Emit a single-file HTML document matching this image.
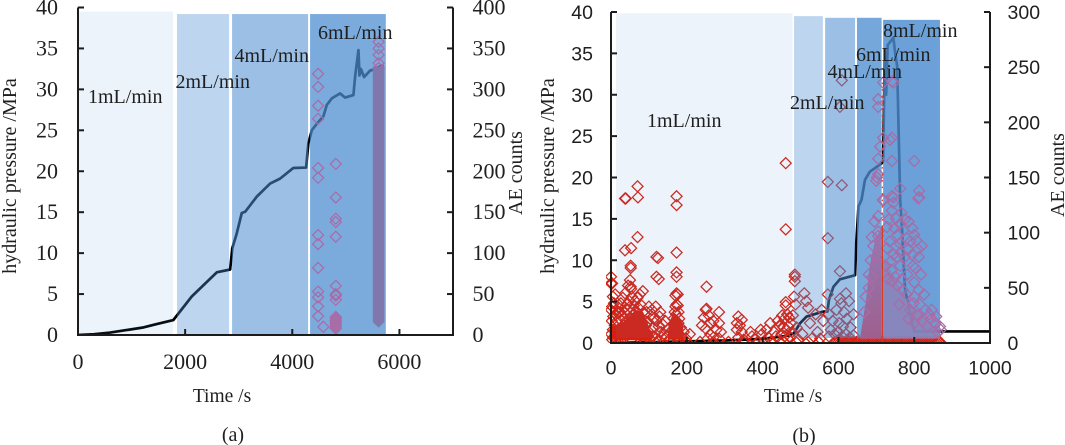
<!DOCTYPE html>
<html lang="en">
<head>
<meta charset="utf-8">
<title>Hydraulic pressure and AE counts</title>
<style>
html,body{margin:0;padding:0;background:#fff;width:1065px;height:445px;overflow:hidden}
svg{display:block}
text{font-family:"Liberation Serif",serif;fill:#1f1f1f}
.sans{font-family:"Liberation Sans",sans-serif}
</style>
</head>
<body>
<svg id="figure" width="1065" height="445" viewBox="0 0 1065 445" xmlns="http://www.w3.org/2000/svg">
  <defs>
    <clipPath id="clipA"><rect x="78" y="0" width="375" height="335"/></clipPath>
    <clipPath id="clipB"><rect x="606" y="0" width="384" height="343"/></clipPath>
    <linearGradient id="moundFill" x1="0" y1="0" x2="0" y2="1">
      <stop offset="0" stop-color="#8f7cb4"/>
      <stop offset="1" stop-color="#a05f8e"/>
    </linearGradient>
  </defs>
  <g id="chartA"></g>
  <g id="chartB"></g>

  <text transform="translate(16,176) rotate(-90)" text-anchor="middle" font-size="20">hydraulic pressure /MPa</text>
  <text transform="translate(522,173) rotate(-90)" text-anchor="middle" font-size="20">AE counts</text>
  <text x="222" y="402" text-anchor="middle" font-size="19.5">Time /s</text>
  <text x="233" y="441" text-anchor="middle" font-size="20">(a)</text>

  <text transform="translate(554,176) rotate(-90)" text-anchor="middle" font-size="20">hydraulic pressure /MPa</text>
  <text transform="translate(1064,175) rotate(-90)" text-anchor="middle" font-size="20">AE counts</text>
  <text x="793" y="402" text-anchor="middle" font-size="19.5">Time /s</text>
  <text x="804" y="442" text-anchor="middle" font-size="20">(b)</text>

  <g font-size="20">
    <text x="88" y="103">1mL/min</text>
    <text x="175.5" y="88">2mL/min</text>
    <text x="234.5" y="62">4mL/min</text>
    <text x="318" y="39">6mL/min</text>
  </g>
  <g font-size="20">
    <text x="647" y="127">1mL/min</text>
    <text x="790" y="109">2mL/min</text>
    <text x="827.5" y="78">4mL/min</text>
    <text x="856" y="61">6mL/min</text>
    <text x="883" y="37">8mL/min</text>
  </g>
</svg>

<script>
/* ---------- axis tick labels ---------- */
const pressureTicks = [0,5,10,15,20,25,30,35,40];
const timeTicksA = [0,2000,4000,6000];
const aeTicksA = [0,50,100,150,200,250,300,350,400];
const timeTicksB = [0,200,400,600,800,1000];
const aeTicksB = [0,50,100,150,200,250,300];

/* ---------- chart (a) data ---------- */
const pressureTimeA = [0,300,600,900,1200,1450,1780,2123,2590,2840,2880,2963,3057,3120,3337,3586,3772,4020,4258,4300,4364,4457,4580,4644,4737,4892,4986,5141,5172,5235,5254,5280,5340,5453,5514,5700];
const pressureValueA = [0,0.1,0.3,0.6,0.9,1.3,1.83,4.7,7.65,8.0,10.6,12.4,14.9,15.05,16.9,18.5,19.1,20.4,20.45,23.4,25,25.8,26.7,28.1,28.9,29.5,29,29.3,31.5,34.8,31.7,32.5,31.5,32.3,32.4,33];
const aePointsA = [
[4482,319],[4482,303],[4482,280],[4482,264],[4482,204],[4482,192],[4482,122],[4482,111],[4482,82],[4482,53],[4482,46],[4482,35],[4482,23],[4580,10],
[4812,209],[4812,168],[4812,142],[4812,138],[4812,120],[4812,60],[4812,50],[4812,48],[4812,43],[4812,22],[4812,20],[4812,18],[4812,16],[4812,14],[4812,12],[4812,10],[4812,8],
[5611,358],[5611,350],[5611,342],[5611,332],[5611,326]
];
const denseColumnTimeA = [5611];
const denseColumnRangeA = [9,328];
const bandStartA = [19,1849,2876,4332];
const bandEndA = [1774,2820,4295,5746];
const bandTopA = [39.5,39.2,39.2,39.2];
const bandAlphaA = [0.1,0.37,0.55,0.733];

/* ---------- chart (b) data ---------- */
const pressureTimeB = [0,100,200,300,400,470,483,499,516,560,571,575,587,604,644,647,653,661,670,683,714,718,722,726,730,745,750,755,763,767,776,800,1000];
const pressureValueB = [0,0.1,0.2,0.3,0.5,0.9,1.2,2.4,3.2,3.8,3.8,5.2,6.8,7.7,8.2,12,16.5,17.3,19.7,20.7,21.7,22,34,30,36,36.9,35,33.5,17.3,14.5,6.4,1.4,1.4];
const aeEarlyCluster = [
[0,60],[0,54],[3,54],[11,44],[5,42],[0,30],[3,33],[8,36],[14,30],[20,32],[26,36],[31,41],[37,45],[45,52],[52,51],[53,49],[52,70],[52,68],[50,57],[37,84],[53,86],[70,96],[84,47],[76,44],[70,41],[64,38],[60,34],[55,42],[48,38],[42,35],[35,28],[28,24],[22,22],[16,20],[10,16],[5,12],[0,8],[2,20],[6,24],[12,26],[18,27],[24,28],[30,30],[36,32],[44,30],[50,33],[58,30],[66,28],[72,32],[78,35],[88,26],[94,28],[100,33],[105,25],[112,22],[118,33],[130,28],[120,20],[126,15],[132,10],[110,14],[100,10],[92,16],[84,18],[76,20],[68,18],[60,20],[54,22],[46,18],[40,20],[34,16],[26,14],[18,12],[12,8],[6,5],[3,3],[14,4],[22,6],[30,8],[38,7],[46,9],[54,10],[62,8],[70,9],[78,6],[86,8],[94,5],[102,4],[110,6],[118,4],[126,3],[134,5],[140,8],[120,78],[124,77],[120,60],[126,58],[37,131],[39,131],[70,142],[71,132],
[143,20],[150,12],[146,6],[156,4],[128,24],[108,30],[136,17],[98,19]
];
const aeSecondCluster = [
[173,133],[173,125],[173,82],[173,64],[173,60],[173,45],[170,43],[176,44],[173,35],[170,33],[176,34],[168,28],[178,28],[172,26],[165,22],[180,22],[172,20],[168,16],[178,18],[184,14],[162,12],[174,12],[166,8],[180,8],[172,5],[188,5],[192,10],[198,4],[208,8]
];
const aeSparsePoints = [
[252,51],[252,31],[250,30],[285,28],[245,23],[258,25],[262,18],[240,16],[250,13],[270,20],[285,18],[278,12],[262,8],[255,4],[270,5],[290,10],[285,4],[336,24],[345,21],[332,18],[340,16],[332,12],[345,10],[336,5],[350,3],[368,10],[372,6],[395,12],[398,8],[420,18],[410,12],[430,10],[440,20],[445,15],[435,6],[415,5],[380,3],[405,2]
];
const aeMidPoints = [
[461,163],[461,103],[461,37],[461,34],[452,25],[458,22],[465,26],[470,23],[475,18],[448,17],[455,14],[462,12],[468,15],[478,10],[450,8],[458,6],[466,4],[474,5],[483,42],[487,35],[480,25],[485,62],[485,60],[485,56],
[490,14],[495,3],[505,8],[510,45],[515,38],[520,32],[525,18],[530,4],[540,26],[545,10],[552,4],[556,30],[560,20],
[572,146],[609,143],[609,238],[604,214],[572,95],[604,65],[572,44],[620,45],[604,40],[608,36],[628,38],[615,28],[575,26],[585,20],[595,30],[602,18],[612,15],[622,22],[632,14],[640,26],[580,12],[590,8],[600,10],[610,6],[620,8],[630,5],[640,7],[575,6]
];
const aeHighPoints = [
[705,221],[705,214],[718,236],[741,237],[746,236],[718,186],[741,186],[736,184],[710,178],[705,167],[741,165],[800,165],[705,153],[700,147],[702,150],[763,140],[813,138],[813,132],[745,132],[718,130],[718,129],[745,127],[741,133],[811,131],[705,115],[752,113],[786,110],[705,101],[705,97],[800,98],[741,120],[767,118],[785,85],[763,90],[812,78],[797,70],[800,55],[763,70],[745,80],[735,92],[728,105],[755,98],[772,102],[780,95],[790,92],[810,85],[775,78],[755,78],[740,66],[725,70],[690,60],[685,75],[692,88],[680,50],[800,42],[815,35],[830,30],[790,30],[770,48],[750,60],[845,22],[855,18],[868,15],[870,12],[862,10],[835,15],[810,25],[785,22],[760,35],
[733,112],[748,104],[762,108],[775,112],[795,104],[806,93],[820,88],[728,86],[738,74],[752,88],[765,82],[795,80],[803,68],[818,62],[782,62],[768,58],[756,52],[742,56],[730,58],[826,44],[812,48],[798,36],[780,44],[846,30],[858,24],[840,26],[820,20],[800,18],[695,110],[688,96],[700,78],[680,62],[672,42],[668,28]
];
const aeFloorTimes = [20,55,90,125,160,200,235,270,310,350,390,425,455,488,520,548,594,600,606,612,618,624,630,636,642,648,654,660,666,672,678,684,690,696,702,708,714,720,726,732,738,744,750,756,762,768,774,780,786,792,798,804,810,816,822,828,834,840,846,852,858,864,868];
const aeFloorCount = [1];
const cloudOneTime = [0,0,30,65,85,100,115,100];
const cloudOneCount = [3,15,18,30,28,14,5,2];
const cloudTwoTime = [150,152,165,178,190,192];
const cloudTwoCount = [3,18,27,24,16,3];
const moundLeftTime = [657,673,683,697,714,714];
const moundLeftCount = [4,39,71,94,105,4];
const moundRightTime = [718,718,781,860,868];
const moundRightCount = [4,78,39,12,4];
const burstLineTime = [716];
const burstLineRange = [0,105];
const burstDotsRange = [105,236];
const bandStartB = [13,483,565,649,718];
const bandEndB = [479,559,644,714,868];
const bandTopB = [39.85,39.5,39.3,39.3,39.05];
const bandBottomB = [0.6];
const bandAlphaB = [0.1,0.37,0.55,0.77,0.82];

const SVGNS = 'http://www.w3.org/2000/svg';
const AXIS = '#1c1c1c';
const RED = '#d8200f';
const MUTED = '#a86ca6';

function scale(d0,d1,r0,r1){return v=>r0+(v-d0)*(r1-r0)/(d1-d0);}
function make(parent,tag,attrs){
  const el=document.createElementNS(SVGNS,tag);
  for(const k in attrs){el.setAttribute(k,attrs[k]);}
  parent.appendChild(el);
  return el;
}
function diamonds(g,points,x,y,stroke){
  for(const p of points){
    const cx=x(p[0]),cy=y(p[1]),r=5.5;
    const el=make(g,'polygon',{points:`${cx},${cy-r} ${cx+r},${cy} ${cx},${cy+r} ${cx-r},${cy}`,fill:'none',stroke:stroke,'stroke-width':1.25});
    
    
  }
}
function polyline(times,values,x,y){
  return times.map((t,i)=>x(t)+','+y(values[i])).join(' ');
}
function axes(g,c){
  const L=c.left,R=c.right,B=c.bottom,T=c.top;
  const frame=make(g,'path',{d:`M${L} ${T}V${B}H${R}V${T}`,fill:'none',stroke:AXIS,'stroke-width':2});
  
  
  for(const v of pressureTicks){
    const t=make(g,'line',{x1:L,x2:L+6,y1:c.yP(v),y2:c.yP(v),stroke:AXIS,'stroke-width':2});
    
    
    const l=make(g,'text',{x:c.leftLabelX,y:c.yP(v)+c.labelDy,'text-anchor':'end','font-size':c.fontSize,class:c.labelClass});
    l.textContent=v;
    
    
  }
  for(const v of c.aeTicks){
    const t=make(g,'line',{x1:R-6,x2:R,y1:c.yA(v),y2:c.yA(v),stroke:AXIS,'stroke-width':2});
    
    
    const l=make(g,'text',{x:c.rightLabelX,y:c.yA(v)+c.labelDy,'text-anchor':'start','font-size':c.fontSize,class:c.labelClass});
    l.textContent=v;
    
    
  }
  for(const v of c.timeTicks){
    const t=make(g,'line',{x1:c.x(v),x2:c.x(v),y1:B-6,y2:B,stroke:AXIS,'stroke-width':2});
    
    
    const l=make(g,'text',{x:c.x(v),y:c.xLabelY,'text-anchor':'middle','font-size':c.fontSize,class:c.labelClass});
    l.textContent=v;
    
    
  }
}

/* ---------- chart (a) ---------- */
(function(){
  const root=document.getElementById('chartA');
  const x=scale(0,7000,78,453), yP=scale(0,40,335,7.5), yA=scale(0,400,335,7.5);
  const plot=make(root,'g',{'clip-path':'url(#clipA)'});
  
  

  const line=make(plot,'polyline',{points:polyline(pressureTimeA,pressureValueA,x,yP),fill:'none',stroke:'#000','stroke-width':2.7,'stroke-linejoin':'round'});
  
  

  bandStartA.forEach((s,i)=>{
    const r=make(root,'rect',{x:x(s),width:x(bandEndA[i])-x(s),y:yP(bandTopA[i]),height:yP(0)-yP(bandTopA[i]),fill:'rgb(75,140,208)','fill-opacity':bandAlphaA[i]});
    
    
  });

  const markers=make(root,'g',{'clip-path':'url(#clipA)'});
  
  
  diamonds(markers,aePointsA,x,yA,MUTED);
  const cx=x(denseColumnTimeA[0]),lo=yA(denseColumnRangeA[0]),hi=yA(denseColumnRangeA[1]);
  const col=make(markers,'polygon',{points:`${cx-5.8},${hi} ${cx+5.8},${hi} ${cx+5.8},${lo-5.5} ${cx},${lo} ${cx-5.8},${lo-5.5}`,fill:'#8078ac'});
  
  

  axes(root,{left:78,right:453,bottom:335,top:7.5,x,yP,yA,aeTicks:aeTicksA,timeTicks:timeTicksA,leftLabelX:58,rightLabelX:472.5,labelDy:7,xLabelY:369,fontSize:22,labelClass:''});
})();

/* ---------- chart (b) ---------- */
(function(){
  const root=document.getElementById('chartB');
  const x=scale(0,1000,611,990), yP=scale(0,40,343,12), yA=scale(0,300,343,12);
  const plot=make(root,'g',{'clip-path':'url(#clipB)'});
  
  

  const line=make(plot,'polyline',{points:polyline(pressureTimeB,pressureValueB,x,yP),fill:'none',stroke:'#000','stroke-width':2.7,'stroke-linejoin':'round'});
  
  

  const markers=make(plot,'g',{});
  
  
  const c1=make(markers,'polygon',{points:polyline(cloudOneTime,cloudOneCount,x,yA),fill:RED});
  
  
  const c2=make(markers,'polygon',{points:polyline(cloudTwoTime,cloudTwoCount,x,yA),fill:RED});
  
  
  diamonds(markers,aeEarlyCluster,x,yA,RED);
  diamonds(markers,aeSecondCluster,x,yA,RED);
  diamonds(markers,aeSparsePoints,x,yA,RED);
  diamonds(markers,aeMidPoints,x,yA,RED);
  diamonds(markers,aeFloorTimes.map(t=>[t,aeFloorCount[0]]),x,yA,RED);

  bandStartB.forEach((s,i)=>{
    const r=make(root,'rect',{x:x(s),width:x(bandEndB[i])-x(s),y:yP(bandTopB[i]),height:yP(bandBottomB[0])-yP(bandTopB[i]),fill:'rgb(75,140,208)','fill-opacity':bandAlphaB[i]});
    
    
  });

  const upper=make(root,'g',{'clip-path':'url(#clipB)'});
  
  
  const mL=make(upper,'polygon',{points:polyline(moundLeftTime,moundLeftCount,x,yA),fill:'url(#moundFill)'});
  
  
  const mR=make(upper,'polygon',{points:polyline(moundRightTime,moundRightCount,x,yA),fill:'#8c82b8','fill-opacity':0.85});
  
  
  diamonds(upper,aeHighPoints,x,yA,MUTED);

  const burst=make(root,'line',{x1:x(burstLineTime[0]),x2:x(burstLineTime[0]),y1:yA(burstLineRange[0]),y2:yA(burstLineRange[1]),stroke:'#d93a24','stroke-width':1.4});
  
  
  const dots=make(root,'line',{x1:x(burstLineTime[0]),x2:x(burstLineTime[0]),y1:yA(burstDotsRange[0]),y2:yA(burstDotsRange[1]),stroke:'#d93a24','stroke-width':1.2,'stroke-dasharray':'1.5 5'});
  
  

  axes(root,{left:611,right:990,bottom:343,top:12,x,yP,yA,aeTicks:aeTicksB,timeTicks:timeTicksB,leftLabelX:593,rightLabelX:1007.5,labelDy:7,xLabelY:374.7,fontSize:19.5,labelClass:'sans'});
})();
</script>
</body>
</html>
